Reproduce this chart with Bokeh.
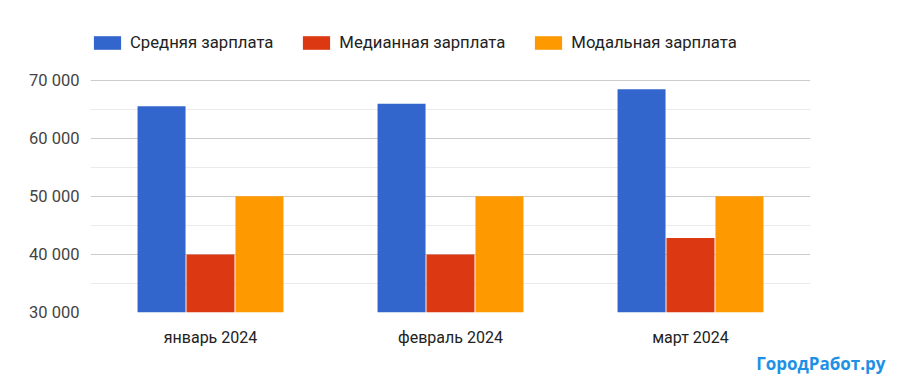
from bokeh.plotting import figure
from bokeh.models import (FactorRange, Range1d, FixedTicker, Legend, LegendItem,
                          Title, ColumnDataSource)
from bokeh.transform import dodge
from bokeh.embed import file_html
from bokeh.resources import INLINE

months = ["январь 2024", "февраль 2024", "март 2024"]
series_names = ["Средняя зарплата", "Медианная зарплата", "Модальная зарплата"]
mean_salary = [65500, 65900, 68400]
median_salary = [40000, 40000, 42800]
modal_salary = [50000, 50000, 50000]
y_ticks = [30000, 40000, 50000, 60000, 70000]
y_minor_ticks = [35000, 45000, 55000, 65000]
y_tick_labels = ["30 000", "40 000", "50 000", "60 000", "70 000"]
colors = ["#3366cc", "#dc3912", "#ff9900"]

FONT = "Roboto"

src = ColumnDataSource(dict(month=months, mean=mean_salary, median=median_salary,
                            modal=modal_salary))

# y range extended above the top tick to leave room for the legend inside the frame
p = figure(width=900, height=391, output_backend="svg", toolbar_location=None,
           x_range=FactorRange(factors=months, range_padding=0),
           y_range=Range1d(30000, 78000),
           min_border_left=90, min_border_right=90, min_border_top=33,
           min_border_bottom=79)
p.outline_line_color = None
p.background_fill_color = "white"
p.border_fill_color = "white"

renderers = []
for col, off, c in zip(["mean", "median", "modal"], [-0.204, 0.0, 0.204], colors):
    r = p.vbar(x=dodge("month", off, range=p.x_range), top=col, bottom=30000,
               width=0.2, source=src, fill_color=c, line_color=None)
    renderers.append(r)

# axes
p.yaxis.ticker = FixedTicker(ticks=y_ticks, minor_ticks=y_minor_ticks)
p.yaxis.major_label_overrides = {t: l for t, l in zip(y_ticks, y_tick_labels)}
p.yaxis.axis_line_color = None
p.yaxis.major_tick_line_color = None
p.yaxis.minor_tick_line_color = None
p.yaxis.major_label_standoff = 5
p.yaxis.major_label_text_font = FONT
p.yaxis.major_label_text_font_size = "16.5px"
p.yaxis.major_label_text_color = "#444444"

p.xaxis.axis_line_color = None
p.xaxis.major_tick_line_color = None
p.xaxis.major_label_standoff = 9
p.xaxis.major_label_text_font = FONT
p.xaxis.major_label_text_font_size = "16px"
p.xaxis.major_label_text_color = "#222222"

p.xgrid.grid_line_color = None
p.ygrid.grid_line_color = "#cccccc"
p.ygrid.minor_grid_line_color = "#ebebeb"

legend = Legend(items=[LegendItem(label=n, renderers=[r]) for n, r in zip(series_names, renderers)],
                orientation="horizontal", location=(0, 260),
                glyph_width=34, glyph_height=17, label_height=17,
                label_standoff=6, spacing=26, padding=0, margin=0,
                border_line_color=None, background_fill_alpha=0,
                label_text_font=FONT, label_text_font_size="16.7px",
                label_text_color="#222222")
p.add_layout(legend, "center")

wm = Title(text="ГородРабот.ру", align="right", offset=-75,
           text_font="Open Sans", text_font_style="bold", text_font_size="17px",
           text_color="#1e90e6", standoff=0, text_line_height=0.9)
p.add_layout(wm, "below")

open("out.html", "w").write(file_html(p, INLINE))
